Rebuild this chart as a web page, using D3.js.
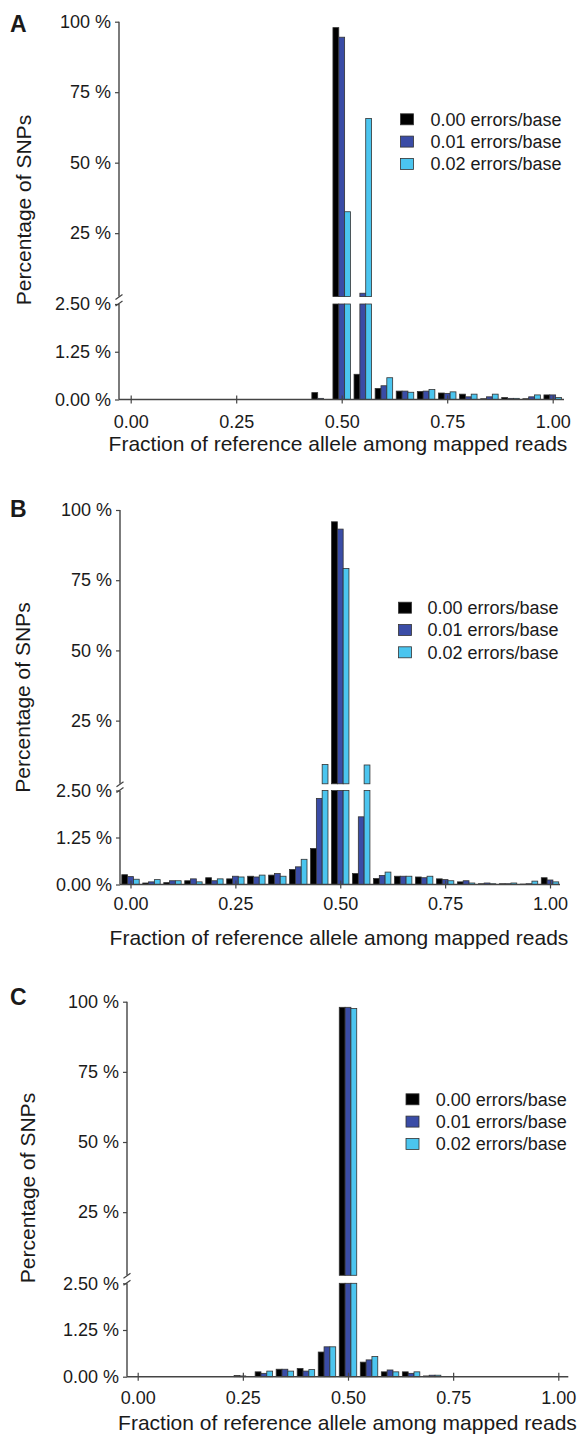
<!DOCTYPE html>
<html>
<head>
<meta charset="UTF-8">
<script src="https://d3js.org/d3.v7.min.js"></script>
<title>Reference allele fraction</title>
<style>
  body { margin: 0; background: #fff; }
  svg text { font-family: "Liberation Sans", Arial, sans-serif; fill: #1a1a1a; }
</style>
</head>
<body>
<script>
// histogram bins (fraction of reference allele)
var bins = [0.00, 0.05, 0.10, 0.15, 0.20, 0.25, 0.30, 0.35, 0.40, 0.45, 0.50,
            0.55, 0.60, 0.65, 0.70, 0.75, 0.80, 0.85, 0.90, 0.95, 1.00];
var seriesNames = ["0.00 errors/base", "0.01 errors/base", "0.02 errors/base"];
var xTicks = [0, 0.25, 0.5, 0.75, 1];
var upperTicks = [25, 50, 75, 100];
var lowerTicks = [0, 1.25, 2.5];

// panel A, percentage of SNPs per bin
var a000 = [0, 0, 0, 0, 0, 0, 0, 0, 0, 0.18, 97.9, 0.66, 0.29, 0.22, 0.21, 0.17, 0.14, 0.02, 0.05, 0.02, 0.12];
var a001 = [0, 0, 0, 0, 0, 0, 0, 0, 0, 0.03, 94.5, 3.7, 0.36, 0.22, 0.22, 0.16, 0.07, 0.07, 0.03, 0.07, 0.12];
var a002 = [0, 0, 0, 0, 0, 0, 0, 0, 0, 0, 32.6, 65.7, 0.57, 0.19, 0.26, 0.20, 0.14, 0.14, 0.03, 0.12, 0.05];

// panel B
var b000 = [0.26, 0.04, 0.05, 0.10, 0.18, 0.15, 0.22, 0.25, 0.40, 0.96, 95.8, 0.29, 0.16, 0.22, 0.20, 0.15, 0.07, 0.02, 0.02, 0.01, 0.18];
var b001 = [0.21, 0.07, 0.10, 0.15, 0.10, 0.22, 0.20, 0.29, 0.47, 2.29, 93.2, 1.80, 0.24, 0.22, 0.18, 0.13, 0.10, 0.04, 0.02, 0.02, 0.12];
var b002 = [0.14, 0.13, 0.10, 0.07, 0.15, 0.20, 0.25, 0.22, 0.67, 9.4, 79.2, 9.2, 0.33, 0.22, 0.22, 0.10, 0.04, 0.02, 0.04, 0.09, 0.07];

// panel C
var c000 = [0, 0, 0, 0, 0, 0.03, 0.13, 0.20, 0.22, 0.66, 98.0, 0.39, 0.13, 0.13, 0.02, 0, 0, 0, 0, 0, 0];
var c001 = [0, 0, 0, 0, 0, 0.02, 0.09, 0.20, 0.15, 0.80, 98.0, 0.45, 0.18, 0.09, 0.04, 0, 0, 0, 0, 0, 0];
var c002 = [0, 0, 0, 0, 0, 0, 0.15, 0.15, 0.19, 0.80, 97.6, 0.54, 0.13, 0.13, 0.04, 0, 0, 0, 0, 0, 0];

var colors = ["#000000", "#3a4ca6", "#4bc5ef"];

var svg = d3.select("body").append("svg")
    .attr("width", 583)
    .attr("height", 1435);

svg.append("rect").attr("width", 583).attr("height", 1435).attr("fill", "#fff");

// pixel layout of each panel
var panels = [
    { label: "A", series: [a000, a001, a002], labelY: 31.5,
      axisX: 119, y100: 21.7, yBrkU: 296.6, yBrkL: 304, y0: 399.5,
      x0: 130.7, x1: 552.7, xEnd: 564, xLabY: 428, xTitleX: 338, xTitleY: 450.5,
      yTitleX: 24, yTitleY: 210, legX: 400.5, legY: 119.3, textX: 430.5 },
    { label: "B", series: [b000, b001, b002], labelY: 516.7,
      axisX: 120, y100: 510, yBrkU: 783.8, yBrkL: 790.5, y0: 884.5,
      x0: 130.5, x1: 550, xEnd: 560, xLabY: 909.5, xTitleX: 339, xTitleY: 945,
      yTitleX: 22.3, yTitleY: 697.5, legX: 398.5, legY: 607.7, textX: 427.5 },
    { label: "C", series: [c000, c001, c002], labelY: 1005,
      axisX: 127, y100: 1001.7, yBrkU: 1275.3, yBrkL: 1283.3, y0: 1376.7,
      x0: 137.7, x1: 558.3, xEnd: 568.3, xLabY: 1404.5, xTitleX: 347.5, xTitleY: 1429.5,
      yTitleX: 27.9, yTitleY: 1188, legX: 406, legY: 1099.3, textX: 435.7 }
];

panels.forEach(drawPanel);

function drawPanel(p) {
    var g = svg.append("g");

    var x = d3.scaleLinear().domain([0, 1]).range([p.x0, p.x1]);
    var yUp = d3.scaleLinear().domain([2.5, 100]).range([p.yBrkU, p.y100]);
    var yLo = d3.scaleLinear().domain([0, 2.5]).range([p.y0, p.yBrkL]);

    var groupW = (x(0.05) - x(0)) * 0.83;
    var inner = d3.scaleBand().domain([0, 1, 2]).range([-groupW / 2, groupW / 2]);

    // flatten into bar records
    var bars = [];
    bins.forEach(function (b, i) {
        p.series.forEach(function (s, k) {
            if (s[i] > 0) bars.push({ bin: b, k: k, v: s[i] });
        });
    });

    // lower part (0 - 2.5 %)
    g.append("g").selectAll("rect")
        .data(bars)
        .enter().append("rect")
        .attr("x", function (d) { return x(d.bin) + inner(d.k); })
        .attr("width", inner.bandwidth())
        .attr("y", function (d) { return yLo(Math.min(d.v, 2.5)); })
        .attr("height", function (d) { return p.y0 - yLo(Math.min(d.v, 2.5)); })
        .attr("fill", function (d) { return colors[d.k]; })
        .attr("stroke", "#333")
        .attr("stroke-width", 0.8);

    // upper part for bars over the break
    g.append("g").selectAll("rect")
        .data(bars.filter(function (d) { return d.v > 2.5; }))
        .enter().append("rect")
        .attr("x", function (d) { return x(d.bin) + inner(d.k); })
        .attr("width", inner.bandwidth())
        .attr("y", function (d) { return yUp(d.v); })
        .attr("height", function (d) { return p.yBrkU - yUp(d.v); })
        .attr("fill", function (d) { return colors[d.k]; })
        .attr("stroke", "#333")
        .attr("stroke-width", 0.8);

    // y axes (upper and lower)
    var upAxis = g.append("g")
        .attr("transform", "translate(" + p.axisX + ",0)")
        .call(d3.axisLeft(yUp).tickValues(upperTicks).tickSize(4).tickPadding(4)
            .tickFormat(function (d) { return d + " %"; }));
    var loAxis = g.append("g")
        .attr("transform", "translate(" + p.axisX + ",0)")
        .call(d3.axisLeft(yLo).tickValues(lowerTicks).tickSize(4).tickPadding(4)
            .tickFormat(function (d) { return d3.format(".2f")(d) + " %"; }));
    [upAxis, loAxis].forEach(function (ax) {
        ax.select(".domain").remove();
        ax.selectAll("line").attr("stroke", "#444").attr("stroke-width", 1.2);
        ax.selectAll("text").style("font-size", "18px").attr("fill", "#1a1a1a");
    });

    g.append("line")
        .attr("x1", p.axisX).attr("x2", p.axisX)
        .attr("y1", p.y100).attr("y2", p.yBrkU)
        .attr("stroke", "#444").attr("stroke-width", 1.4);
    g.append("line")
        .attr("x1", p.axisX).attr("x2", p.axisX)
        .attr("y1", p.yBrkL).attr("y2", p.y0)
        .attr("stroke", "#444").attr("stroke-width", 1.4);

    // break marks
    [p.yBrkU + 0.5, p.yBrkL - 0.5].forEach(function (yy) {
        g.append("line")
            .attr("x1", p.axisX - 3.5).attr("y1", yy + 2.5)
            .attr("x2", p.axisX + 3.5).attr("y2", yy - 2.5)
            .attr("stroke", "#444").attr("stroke-width", 1.2);
    });

    // x axis
    var xAx = g.append("g")
        .attr("transform", "translate(0," + p.y0 + ")")
        .call(d3.axisBottom(x).tickValues(xTicks).tickSize(4).tickPadding(10)
            .tickFormat(d3.format(".2f")));
    xAx.select(".domain").remove();
    xAx.selectAll("line").attr("y1", -4).attr("stroke", "#444").attr("stroke-width", 1.2);
    xAx.selectAll("text").style("font-size", "18px").attr("fill", "#1a1a1a")
        .attr("dy", null).attr("y", p.xLabY - p.y0);

    g.append("line")
        .attr("x1", p.axisX).attr("x2", p.xEnd)
        .attr("y1", p.y0).attr("y2", p.y0)
        .attr("stroke", "#444").attr("stroke-width", 1.4);

    // titles
    g.append("text")
        .attr("x", p.xTitleX).attr("y", p.xTitleY)
        .attr("text-anchor", "middle")
        .style("font-size", "21px")
        .text("Fraction of reference allele among mapped reads");

    g.append("text")
        .attr("transform", "translate(" + p.yTitleX + "," + p.yTitleY + ") rotate(-90)")
        .attr("text-anchor", "middle")
        .attr("dy", "0.35em")
        .style("font-size", "21px")
        .text("Percentage of SNPs");

    g.append("text")
        .attr("x", 10).attr("y", p.labelY)
        .style("font-size", "23px")
        .style("font-weight", "bold")
        .text(p.label);

    // legend
    var leg = g.append("g").selectAll("g")
        .data(seriesNames)
        .enter().append("g")
        .attr("transform", function (d, i) { return "translate(0," + (p.legY + i * 22.3) + ")"; });
    leg.append("rect")
        .attr("x", p.legX).attr("y", -5.5)
        .attr("width", 13).attr("height", 11)
        .attr("fill", function (d, i) { return colors[i]; })
        .attr("stroke", "#333").attr("stroke-width", 0.8);
    leg.append("text")
        .attr("x", p.textX).attr("dy", "0.35em")
        .style("font-size", "18px")
        .text(function (d) { return d; });
}
</script>
</body>
</html>
